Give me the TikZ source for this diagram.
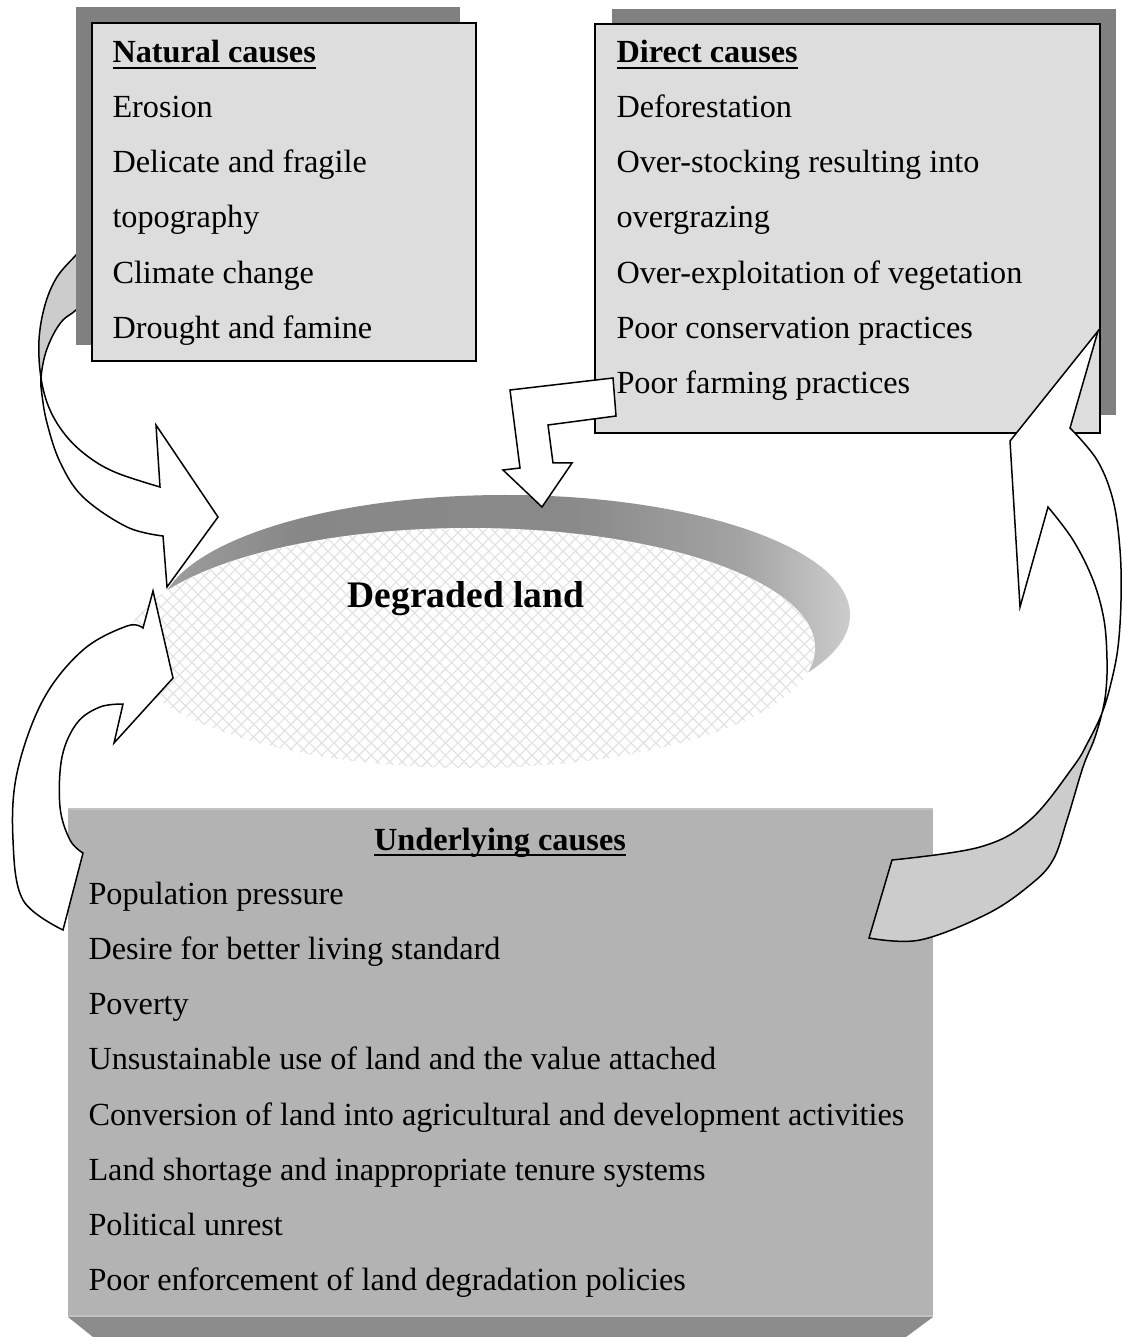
\documentclass[tikz,border=0pt]{standalone}
\usepackage{fontspec}
\setmainfont{Liberation Serif}
\usetikzlibrary{patterns.meta}

\definecolor{boxfill}{HTML}{DDDDDD}
\definecolor{shadowgray}{HTML}{808080}
\definecolor{basefill}{HTML}{B3B3B3}
\definecolor{baseedge}{HTML}{8C8C8C}
\definecolor{baselight}{HTML}{C2C2C2}
\definecolor{backside}{HTML}{CCCCCC}
\definecolor{meshgray}{HTML}{E2E2E2}

% rim of the land disk: dark along the top, lighter towards the right end
\pgfdeclarehorizontalshading{rimshade}{100bp}{rgb(0bp)=(.62,.62,.62); rgb(25bp)=(.62,.62,.62); rgb(35bp)=(.53,.53,.53); rgb(55bp)=(.54,.54,.54); rgb(67bp)=(.64,.64,.64); rgb(75bp)=(.8,.8,.8); rgb(100bp)=(.8,.8,.8)}

% bold heading with a rule close under the baseline
\newcommand\headline[1]{\setbox0\hbox{\textbf{#1}}\rlap{\rule[-2.4pt]{\wd0}{0.8pt}}\box0}

\tikzset{
  causebox/.style={draw=black, line width=0.8pt, fill=boxfill},
  item/.style={anchor=base west, inner sep=0pt, font=\fontsize{12.9pt}{15pt}\selectfont},
  heading/.style={anchor=base, inner sep=0pt, font=\fontsize{12.9pt}{15pt}\selectfont},
  blockarrow/.style={draw=black, line width=0.6pt, line join=miter},
}

\begin{document}
\begin{tikzpicture}[x=0.4pt, y=-0.4pt]
\useasboundingbox (0,0) rectangle (1122,1337);

% ---- degraded land disk ----
\coordinate (rimc) at (505,615);
\coordinate (facec) at (470,648);
\shade[shading=rimshade] (rimc) ellipse [x radius=138pt, y radius=48pt];
\fill[white] (facec) ellipse [x radius=138pt, y radius=48pt];
\fill[pattern={Lines[angle=45, distance=3.5pt, line width=0.45pt]}, pattern color=meshgray]
  (facec) ellipse [x radius=138pt, y radius=48pt];
\fill[pattern={Lines[angle=-45, distance=3.5pt, line width=0.45pt]}, pattern color=meshgray]
  (facec) ellipse [x radius=138pt, y radius=48pt];
\node[anchor=base, inner sep=0pt, font=\bfseries\fontsize{15pt}{18pt}\selectfont] (land) at (466,607) {Degraded land};

% ---- twisted arrow from the natural causes ----
\path[save path=\curlA] (89,240) -- plot[smooth, tension=0.6] coordinates
  {(89,240) (76,255) (57,277) (45,305) (39,340) (41,378) (50,410) (67,437) (90,458) (117,473) (160,487)}
  -- (156,425) -- (218,517) -- (167,587) -- (163,536)
  -- plot[smooth, tension=0.6] coordinates
  {(163,536) (127,527) (83,497) (60,462) (47,423) (42,395) (41,378) (45,355) (53,335) (63,320) (76,310) (88,295)}
  -- cycle;
\fill[white, use path=\curlA];
\begin{scope}
  \clip (0,200) rectangle (100,378);
  \fill[backside, use path=\curlA];
\end{scope}
\draw[blockarrow, use path=\curlA];

% ---- natural causes ----
\fill[shadowgray] (76,7) rectangle (460,345);
\draw[causebox] (92,23) rectangle (476,361);
\node[item] (nat0) at (112,63) {\headline{Natural causes}};
\node[item] (nat1) at (112,118) {Erosion};
\node[item] (nat2) at (112,173) {Delicate and fragile};
\node[item] (nat3) at (112,228) {topography};
\node[item] (nat4) at (112,284) {Climate change};
\node[item] (nat5) at (112,339) {Drought and famine};

% ---- direct causes ----
\fill[shadowgray] (612,9) rectangle (1116,415);
\draw[causebox] (595,24) rectangle (1100,433);

% bent arrow from the direct causes down onto the disk
\draw[blockarrow, fill=white] (613,378) -- (616,416) -- (548,425) -- (553,463) -- (572,463)
  -- (542,507) -- (503,470) -- (520,468) -- (510,390) -- cycle;

\node[item] (dir0) at (616,63) {\headline{Direct causes}};
\node[item] (dir1) at (616,118) {Deforestation};
\node[item] (dir2) at (616,173) {Over-stocking resulting into};
\node[item] (dir3) at (616,228) {overgrazing};
\node[item] (dir4) at (616,284) {Over-exploitation of vegetation};
\node[item] (dir5) at (616,339) {Poor conservation practices};
\node[item] (dir6) at (616,394) {Poor farming practices};

% ---- underlying causes ----
\fill[basefill] (68,808) rectangle (933,1317);
\fill[baseedge] (68,1317) -- (933,1317) -- (906,1337) -- (93,1337) -- cycle;
\draw[baselight, line width=0.8pt] (68,809) -- (933,809);
\draw[baselight, line width=0.8pt] (68,1316) -- (933,1316);
\node[heading] (und0) at (500,850) {\headline{Underlying causes}};
\node[item] (und1) at (88,904) {Population pressure};
\node[item] (und2) at (88,959) {Desire for better living standard};
\node[item] (und3) at (88,1014) {Poverty};
\node[item] (und4) at (88,1069) {Unsustainable use of land and the value attached};
\node[item] (und5) at (88,1125) {Conversion of land into agricultural and development activities};
\node[item] (und6) at (88,1180) {Land shortage and inappropriate tenure systems};
\node[item] (und7) at (88,1235) {Political unrest};
\node[item] (und8) at (88,1290) {Poor enforcement of land degradation policies};

% ---- curved arrow from the underlying causes up to the disk ----
\draw[blockarrow, fill=white] (143,628) -- (153,591) -- (173,678) -- (114,743) -- (123,704)
  -- plot[smooth, tension=0.6] coordinates
  {(123,704) (100,707) (77,723) (62,757) (60,807) (70,840) (83,853)}
  -- (63,930)
  -- plot[smooth, tension=0.6] coordinates
  {(63,930) (23,900) (13,840) (17,773) (43,700) (83,650) (127,626) (143,628)}
  -- cycle;

% ---- twisted arrow from the underlying causes up to the direct causes ----
\path[save path=\curlD] (869,938) -- plot[smooth, tension=0.6] coordinates
  {(869,938) (920,940) (987,914) (1030,885) (1053,860) (1067,820) (1083,767) (1094,740) (1102,713) (1106,690) (1107,660) (1104,620) (1093,580) (1073,540) (1048,507)}
  -- (1020,607) -- (1010,441) -- (1098,331) -- (1070,428)
  -- plot[smooth, tension=0.6] coordinates
  {(1070,428) (1097,460) (1113,500) (1120,550) (1121,600) (1118,647) (1111,683) (1102,713) (1088,742) (1073,767) (1030,820) (980,847) (892,860)}
  -- cycle;
\fill[white, use path=\curlD];
\begin{scope}
  \clip (850,713) rectangle (1122,960);
  \fill[backside, use path=\curlD];
\end{scope}
\draw[blockarrow, use path=\curlD];

\end{tikzpicture}
\end{document}
